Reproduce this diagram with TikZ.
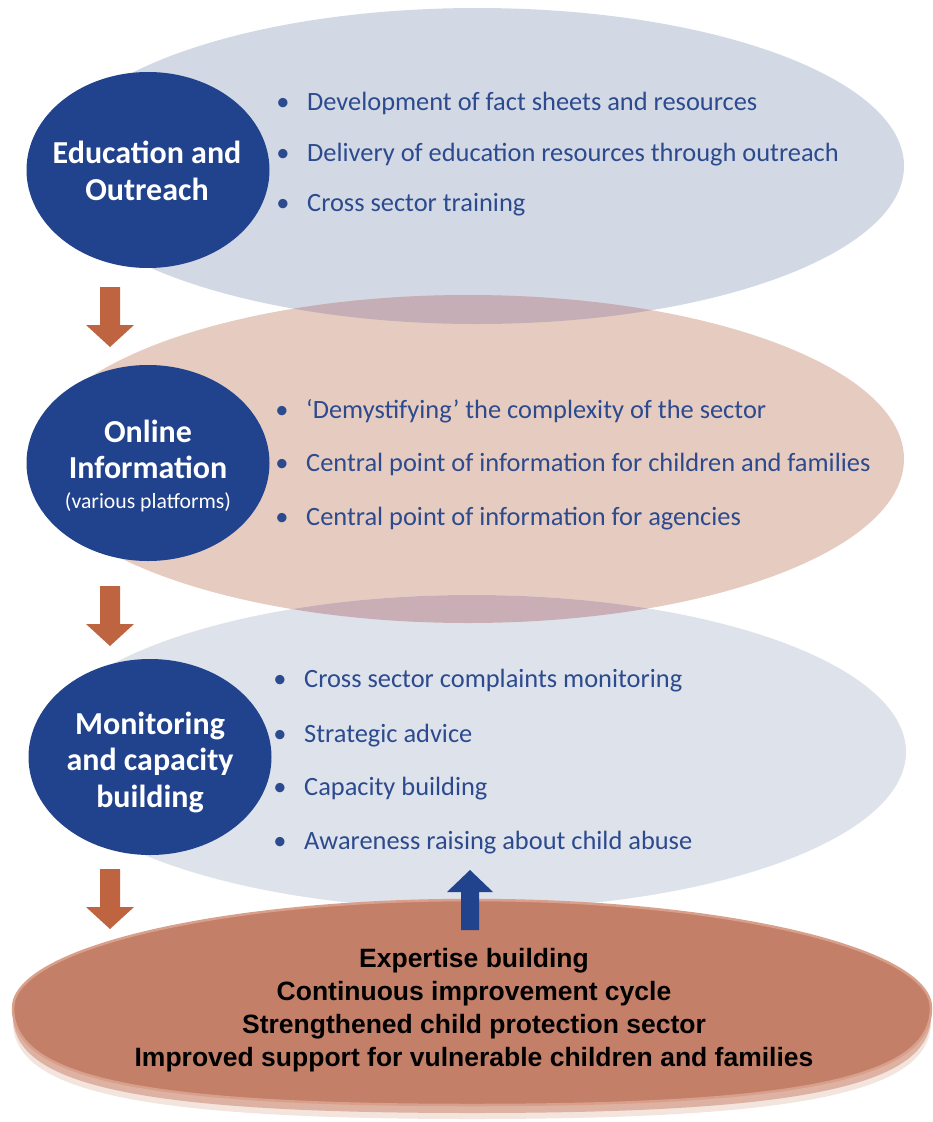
\documentclass[tikz,border=0pt]{standalone}
\usepackage{fontspec}
\setmainfont{Carlito}
\newfontfamily\outcomefont{Liberation Sans}
\usetikzlibrary{shapes.geometric}

\definecolor{navy}{HTML}{21428C}
\definecolor{itemblue}{HTML}{2C4A8E}
\definecolor{rust}{HTML}{BF6440}
\definecolor{bandblue}{HTML}{D2D9E5}
\definecolor{bandpeach}{HTML}{E6CCC0}
\definecolor{bandpale}{HTML}{DEE2EB}
\definecolor{mauveA}{HTML}{C6AEB7}
\definecolor{mauveB}{HTML}{C9AFB5}
\definecolor{clay}{HTML}{C47F68}
\definecolor{clayrim}{HTML}{D8A08B}
\definecolor{clayedge}{HTML}{DDB2A2}
\definecolor{clayshadow}{HTML}{F3E4DE}

\tikzset{
  band/.style={ellipse, inner sep=0pt, outer sep=0pt},
  hub/.style={ellipse, fill=navy, inner sep=0pt, outer sep=0pt,
    minimum width=243pt, minimum height=196pt},
  hubtext/.style={text=white, align=center, inner sep=0pt,
    font=\fontsize{32}{36.5}\selectfont\bfseries},
  bulletmark/.style={anchor=mid, inner sep=0pt, text=itemblue,
    font=\fontsize{26.4}{30}\selectfont},
  item/.style={anchor=mid west, inner sep=0pt, text=itemblue,
    font=\fontsize{26.4}{30}\selectfont},
  outcome/.style={align=center, inner sep=0pt,
    font=\outcomefont\bfseries\fontsize{26.5}{33}\selectfont},
}

% outline of the outcome disc, fuller in its lower half
\def\discpath{(13,1008) .. controls (13,948.6) and (219.5,900) .. (472,900)
  .. controls (724.5,900) and (931,948.6) .. (931,1008)
  .. controls (931,1077.8) and (802.5,1105) .. (472,1105)
  .. controls (141.5,1105) and (13,1077.8) .. (13,1008) -- cycle}

\begin{document}
\begin{tikzpicture}[x=1pt,y=-1pt]
\useasboundingbox (0,0) rectangle (933,1122);

% three activity bands
\node[band, fill=bandblue, minimum width=854pt, minimum height=316pt] (band1) at (477,166) {};
\node[band, fill=bandpeach, minimum width=872pt, minimum height=328pt] (band2) at (468,459) {};
\node[band, fill=bandpale, minimum width=868pt, minimum height=314pt] (band3) at (472,752) {};

% where neighbouring bands overlap
\begin{scope}
  \clip (477,166) ellipse [x radius=427pt, y radius=158pt];
  \fill[mauveA] (468,459) ellipse [x radius=436pt, y radius=164pt];
\end{scope}
\begin{scope}
  \clip (468,459) ellipse [x radius=436pt, y radius=164pt];
  \fill[mauveB] (472,752) ellipse [x radius=434pt, y radius=157pt];
\end{scope}

% outcome disc: soft shadow, lighter edge, then the face
\begin{scope}[yshift=-14pt]
  \fill[clayshadow] \discpath;
\end{scope}
\begin{scope}[yshift=-8pt]
  \fill[clayedge] \discpath;
\end{scope}
\fill[clay, draw=clayrim, line width=2.5pt] \discpath;
\coordinate (outcome) at (472,1005);

% bullet lists
\foreach \y/\t [count=\i] in {108/Development of fact sheets and resources,
                             159/Delivery of education resources through outreach,
                             209/Cross sector training}{
  \node[bulletmark] (b1dot\i) at (283,\y) {•};
  \node[item] (b1item\i) at (307,\y) {\t};
}
\foreach \y/\t [count=\i] in {416/‘Demystifying’ the complexity of the sector,
                             469/Central point of information for children and families,
                             523/Central point of information for agencies}{
  \node[bulletmark] (b2dot\i) at (282,\y) {•};
  \node[item] (b2item\i) at (306,\y) {\t};
}
\foreach \y/\t [count=\i] in {685/Cross sector complaints monitoring,
                             740/Strategic advice,
                             793/Capacity building,
                             847/Awareness raising about child abuse}{
  \node[bulletmark] (b3dot\i) at (280,\y) {•};
  \node[item] (b3item\i) at (304,\y) {\t};
}

% downward flow arrows
\foreach \name/\y in {flowA/287, flowB/586, flowC/869}{
  \coordinate (\name) at (110,\y);
  \fill[rust] (\name) ++(-10,0) -- ++(20,0) -- ++(0,38) -- ++(14,0)
    -- ++(-24,22) -- ++(-24,-22) -- ++(14,0) -- cycle;
}

% feedback arrow rising from the outcome disc
\coordinate (feedback) at (470,930);
\fill[navy] (feedback) ++(-9,0) -- ++(18,0) -- ++(0,-38) -- ++(14,0)
  -- ++(-23,-22) -- ++(-23,22) -- ++(14,0) -- cycle;

% activity hubs and their titles
\node[hub] (hub1) at (148,170) {};
\node[hub] (hub2) at (148,463) {};
\node[hub] (hub3) at (150,757) {};
\node[hubtext] (hub1text) at (147,171) {Education and\\Outreach};
\node[hubtext] (hub2text) at (148,466) {Online\\Information\\[-7pt]{\mdseries\fontsize{21.7}{25}\selectfont (various platforms)}};
\node[hubtext] (hub3text) at (150,762) {Monitoring\\and capacity\\building};

% outcome text
\node[outcome] (outcometext) at (474,1010) {Expertise building\\Continuous improvement cycle\\Strengthened child protection sector\\Improved support for vulnerable children and families};
\end{tikzpicture}
\end{document}
